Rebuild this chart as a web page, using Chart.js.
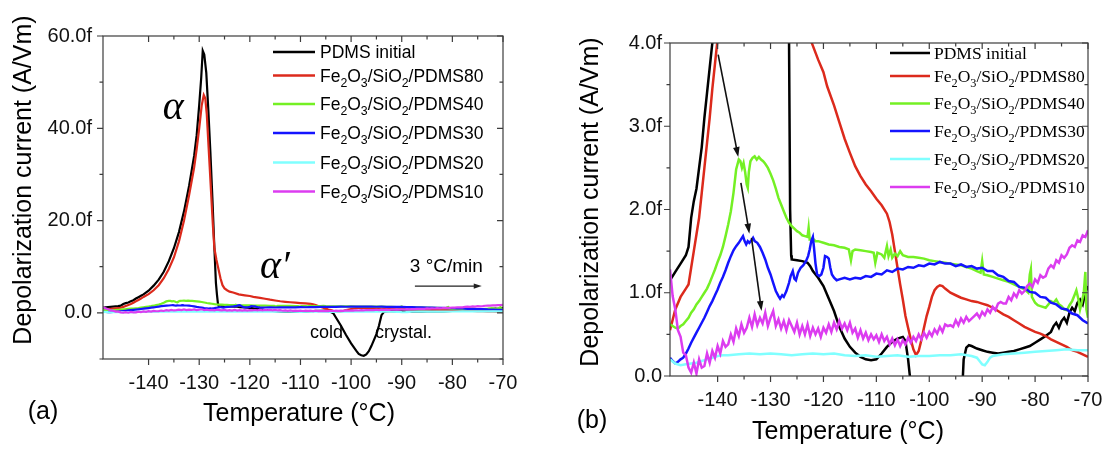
<!DOCTYPE html>
<html>
<head>
<meta charset="utf-8">
<script src="https://cdn.jsdelivr.net/npm/chart.js@4.4.1/dist/chart.umd.min.js"></script>
<style>
  html, body { margin: 0; padding: 0; background: #fff; }
  #wrap { position: relative; width: 1104px; height: 450px; overflow: hidden; }
  #wrap canvas { position: absolute; top: 0; }
  #chartA { left: 0; }
  #chartB { left: 560px; }
</style>
</head>
<body>
<div id="wrap">
  <canvas id="chartA" width="560" height="450"></canvas>
  <canvas id="chartB" width="544" height="450"></canvas>
</div>
<script>
// TSDC curves, temperature in °C, current in fA/Vm (same runs in both panels)
const pdmsT = [-149, -148, -147, -146, -145.5, -145, -144.5, -144, -143.5, -143, -142.5, -142, -141.5, -141, -140, -139, -138, -137, -136, -135, -134, -133, -132, -131, -130.5, -130, -129.6, -129.3, -129, -128.6, -128.2, -127.8, -127.4, -127, -126.7, -126.5, -126.3, -126.1, -126, -125, -124, -123, -122.5, -122, -121, -120, -119, -118, -117, -116, -115, -114, -113, -112, -111, -110, -109, -108, -107, -106, -105, -104.5, -104, -103.5, -103, -102, -101, -100, -99, -98.5, -98, -97.5, -97, -96.5, -96, -95, -94.5, -94, -93.5, -93, -92.5, -92, -91, -90, -89, -88, -87, -86, -85, -84, -83, -82, -81, -80, -79, -78, -77, -76.5, -76, -75.5, -75, -74.5, -74, -73.5, -73, -72.5, -72, -71.5, -71, -70.5, -70];
const pdmsI = [1.15, 1.25, 1.35, 1.45, 1.55, 1.9, 2.1, 2.25, 2.5, 2.75, 3.1, 3.4, 3.7, 4.0, 4.8, 5.9, 7.2, 8.9, 11.2, 14.0, 17.5, 22.0, 27.5, 34, 38.5, 45, 51, 56.8, 56, 52, 44, 35, 25, 14, 6.5, 4.0, 2.0, 1.45, 1.4, 1.39, 1.38, 1.36, 1.32, 1.26, 1.18, 1.08, 0.93, 0.78, 0.59, 0.45, 0.35, 0.28, 0.23, 0.2, 0.19, 0.2, 0.27, 0.35, 0.41, 0.45, 0.47, 0.42, 0.2, -0.1, -1.0, -2.8, -4.8, -6.6, -8.2, -8.9, -9.2, -9.3, -9.0, -8.3, -7.2, -4.6, -2.8, -0.5, 0.2, 0.34, 0.37, 0.36, 0.33, 0.31, 0.29, 0.28, 0.27, 0.28, 0.29, 0.3, 0.32, 0.34, 0.36, 0.4, 0.44, 0.48, 0.53, 0.6, 0.64, 0.58, 0.66, 0.7, 0.64, 0.76, 0.82, 0.78, 0.88, 0.92, 0.86, 1.0, 1.08];

const fe80T = [-149, -148, -147, -146, -145.5, -145, -144.5, -144, -143.5, -143, -142.5, -142, -141.5, -141, -140.5, -140, -139, -138, -137, -136, -135, -134, -133, -132, -131, -130.5, -130, -129.5, -129.1, -128.8, -128.5, -128.2, -127.9, -127.6, -127.3, -127, -126.6, -126.2, -125.8, -125.4, -125, -124.5, -124, -123.3, -122.2, -121, -120, -119.3, -118, -117, -116, -115, -114, -113, -112, -111, -110, -109, -108, -107.5, -107, -106.5, -106, -105.5, -105, -104.5, -104, -103.5, -103, -102.5, -102, -101.5, -101, -100.5, -100, -99.5, -99, -98.5, -98, -97.5, -97, -96, -95, -94, -93, -92, -91, -90, -89, -88, -87, -86, -85, -84, -83, -82, -81, -80, -79, -78, -77, -76, -75, -74, -73, -72, -71, -70];
const fe80I = [0.55, 0.8, 0.95, 1.05, 1.1, 1.3, 1.5, 1.7, 1.9, 2.2, 2.5, 2.8, 3.1, 3.45, 3.75, 4.05, 4.9, 6.0, 7.5, 9.5, 12.0, 15.5, 20.0, 25.5, 31.5, 35.5, 40, 45, 47.2, 46.5, 43, 37, 31, 25, 19, 14, 11.5, 9.5, 7.5, 6.0, 5.3, 4.9, 4.6, 4.4, 4.0, 3.8, 3.65, 3.48, 3.25, 3.05, 2.85, 2.68, 2.52, 2.4, 2.3, 2.22, 2.13, 2.05, 1.95, 1.85, 1.7, 1.5, 1.3, 1.1, 0.92, 0.72, 0.58, 0.44, 0.32, 0.25, 0.3, 0.43, 0.58, 0.72, 0.83, 0.95, 1.03, 1.07, 1.09, 1.08, 1.05, 1.0, 0.97, 0.94, 0.92, 0.9, 0.89, 0.87, 0.85, 0.82, 0.78, 0.74, 0.71, 0.67, 0.63, 0.59, 0.56, 0.53, 0.51, 0.48, 0.44, 0.41, 0.38, 0.35, 0.31, 0.29, 0.26, 0.23];

const fe40T = [-149, -148.5, -148, -147.5, -147, -146.5, -146, -145.5, -145, -144.5, -144, -143.5, -143, -142.5, -142, -141.5, -141, -140.5, -140, -139.5, -139, -138.5, -138, -137.5, -137, -136.5, -136, -135.7, -135.4, -135.1, -134.8, -134.5, -134.3, -134.1, -133.8, -133.4, -133, -132.6, -132.2, -131.8, -131.4, -131, -130.5, -130, -129.5, -129, -128.5, -128, -127.5, -127, -126.5, -126, -125.5, -125, -124.5, -124, -123.5, -123, -122.8, -122.6, -122, -121.5, -121, -120, -119, -118, -117, -116, -115.2, -114.8, -114.5, -114, -113, -112, -111, -110.5, -110.2, -109.8, -109, -108.5, -108, -107.7, -107.3, -107, -106.5, -106, -105.5, -105, -104, -103, -102, -101, -100, -99, -98, -97, -96, -95, -94, -93, -92, -91, -90.3, -90, -89.7, -89, -88, -87, -86, -85, -84, -83, -82, -81.3, -81, -80.8, -80.6, -80, -79.5, -79, -78, -77.5, -77, -76.5, -76, -75.5, -75, -74.5, -74, -73.5, -73, -72.5, -72.2, -71.8, -71.5, -71.2, -70.8, -70.5, -70.3, -70];
const fe40I = [0.62, 0.6, 0.58, 0.57, 0.6, 0.62, 0.66, 0.7, 0.76, 0.8, 0.86, 0.9, 0.95, 1.0, 1.05, 1.12, 1.2, 1.28, 1.37, 1.45, 1.55, 1.68, 1.82, 1.98, 2.2, 2.48, 2.6, 2.58, 2.5, 2.56, 2.45, 2.3, 2.26, 2.45, 2.58, 2.62, 2.64, 2.6, 2.63, 2.6, 2.58, 2.55, 2.5, 2.43, 2.35, 2.25, 2.14, 2.06, 1.98, 1.9, 1.84, 1.8, 1.77, 1.74, 1.72, 1.69, 1.68, 1.67, 1.78, 1.64, 1.65, 1.62, 1.62, 1.6, 1.58, 1.57, 1.55, 1.54, 1.52, 1.39, 1.5, 1.52, 1.51, 1.5, 1.49, 1.48, 1.36, 1.48, 1.46, 1.42, 1.56, 1.44, 1.52, 1.42, 1.47, 1.44, 1.5, 1.45, 1.43, 1.43, 1.42, 1.41, 1.39, 1.38, 1.37, 1.36, 1.35, 1.34, 1.33, 1.31, 1.29, 1.26, 1.24, 1.38, 1.22, 1.21, 1.19, 1.17, 1.15, 1.13, 1.1, 1.07, 1.04, 1.0, 1.22, 1.28, 0.95, 0.88, 0.85, 0.84, 0.82, 0.86, 0.9, 0.88, 0.92, 0.86, 0.84, 0.8, 0.79, 0.85, 0.9, 0.98, 1.03, 0.92, 0.8, 0.88, 1.0, 1.25, 0.8, 0.7];

const fe30T = [-149, -148.5, -148, -147.5, -147, -146.5, -146, -145.5, -145, -144.5, -144, -143.5, -143, -142.5, -142, -141.5, -141, -140.5, -140, -139.5, -139, -138.5, -138, -137.5, -137, -136.5, -136, -135.5, -135.2, -134.9, -134.6, -134.3, -134, -133.6, -133.3, -133, -132.5, -132, -131.5, -131, -130.5, -130, -129.5, -129, -128.5, -128.2, -127.8, -127.5, -127, -126.5, -126.2, -125.8, -125.5, -125.2, -124.8, -124.3, -123.8, -123.3, -122.9, -122.6, -122.3, -122, -121.8, -121.5, -121.2, -120.8, -120.4, -120, -119.7, -119.3, -119, -118.7, -118.4, -118, -117.5, -117, -116, -115, -114, -113, -112, -111, -110, -109, -108, -107, -106, -105, -104, -103, -102, -101, -100, -99, -98, -97, -96, -95, -94, -93, -92, -91, -90, -89, -88, -87, -86, -85, -84, -83, -82, -81, -80, -79, -78, -77, -76, -75, -74, -73, -72, -71, -70];
const fe30I = [0.22, 0.18, 0.15, 0.17, 0.2, 0.22, 0.27, 0.33, 0.4, 0.46, 0.52, 0.58, 0.64, 0.7, 0.77, 0.84, 0.9, 0.97, 1.04, 1.12, 1.19, 1.27, 1.36, 1.44, 1.51, 1.56, 1.6, 1.65, 1.68, 1.62, 1.58, 1.62, 1.6, 1.63, 1.66, 1.62, 1.6, 1.55, 1.48, 1.4, 1.3, 1.22, 1.12, 1.02, 0.96, 0.93, 0.97, 0.95, 1.02, 1.12, 1.2, 1.26, 1.17, 1.15, 1.24, 1.3, 1.33, 1.38, 1.44, 1.52, 1.62, 1.67, 1.55, 1.35, 1.22, 1.2, 1.22, 1.3, 1.44, 1.43, 1.41, 1.3, 1.22, 1.18, 1.15, 1.16, 1.18, 1.16, 1.18, 1.17, 1.2, 1.19, 1.23, 1.22, 1.27, 1.25, 1.29, 1.28, 1.31, 1.3, 1.33, 1.32, 1.35, 1.34, 1.37, 1.35, 1.35, 1.32, 1.34, 1.31, 1.32, 1.29, 1.3, 1.26, 1.26, 1.21, 1.19, 1.14, 1.13, 1.07, 1.06, 1.01, 1.0, 0.95, 0.94, 0.88, 0.86, 0.81, 0.8, 0.75, 0.73, 0.67, 0.63];

const fe20T = [-149, -148, -147, -146, -145, -144, -143, -142, -141, -140, -139, -138, -136, -134, -132, -130, -128, -126, -124, -122, -120, -118, -116, -114, -112, -110, -108, -106, -104, -102, -100, -98, -96, -94, -92, -91, -90.5, -90, -89.5, -89, -88.5, -88, -86, -84, -82, -80, -78, -76, -74, -72, -70];
const fe20I = [0.2, 0.15, 0.13, 0.14, 0.15, 0.16, 0.18, 0.2, 0.22, 0.24, 0.25, 0.25, 0.26, 0.27, 0.26, 0.27, 0.26, 0.25, 0.26, 0.27, 0.26, 0.27, 0.25, 0.24, 0.25, 0.23, 0.24, 0.25, 0.23, 0.24, 0.24, 0.25, 0.25, 0.26, 0.24, 0.22, 0.18, 0.14, 0.13, 0.17, 0.22, 0.24, 0.26, 0.27, 0.28, 0.29, 0.3, 0.31, 0.32, 0.31, 0.31];

const fe10T = [
  -149, -148.5, -148, -147.5, -147, -146.5, -146, -145.5, -145, -144.5,
  -144, -143.5, -143, -142.5, -142, -141.5, -141, -140.5, -140, -139.5,
  -139, -138.5, -138, -137.5, -137, -136.5, -136, -135.5, -135, -134.5,
  -134, -133.5, -133, -132.5, -132, -131.5, -131, -130.5, -130, -129.5,
  -129, -128.5, -128, -127.5, -127, -126.5, -126, -125.5, -125, -124.5,
  -124, -123.5, -123, -122.5, -122, -121.5, -121, -120.5, -120, -119.5,
  -119, -118.5, -118, -117.5, -117, -116.5, -116, -115.5, -115, -114.5,
  -114, -113.5, -113, -112.5, -112, -111.5, -111, -110.5, -110, -109.5,
  -109, -108.5, -108, -107.5, -107, -106.5, -106, -105.5, -105, -104.5,
  -104, -103.5, -103, -102.5, -102, -101.5, -101, -100.5, -100, -99.5,
  -99, -98.5, -98, -97.5, -97, -96.5, -96, -95.5, -95, -94.5,
  -94, -93.5, -93, -92.5, -92, -91.5, -91, -90.5, -90, -89.5,
  -89, -88.5, -88, -87.5, -87, -86.5, -86, -85.5, -85, -84.5,
  -84, -83.5, -83, -82.5, -82, -81.5, -81, -80.5, -80, -79.5,
  -79, -78.5, -78, -77.5, -77, -76.5, -76, -75.5, -75, -74.5,
  -74, -73.5, -73, -72.5, -72, -71.5, -71, -70.5, -70];
const fe10I = [
  1.28, 0.96, 0.8, 0.55, 0.47, 0.28, 0.25, 0.1, 0.04, 0.16,
  0.03, 0.2, 0.1, 0.12, 0.27, 0.16, 0.3, 0.22, 0.36, 0.27,
  0.42, 0.35, 0.38, 0.5, 0.41, 0.57, 0.48, 0.62, 0.52, 0.58,
  0.7, 0.59, 0.74, 0.61, 0.7, 0.63, 0.76, 0.6, 0.7, 0.78,
  0.6, 0.68, 0.57, 0.66, 0.55, 0.67, 0.6, 0.53, 0.64, 0.5,
  0.6, 0.5, 0.62, 0.48, 0.58, 0.5, 0.57, 0.47, 0.58, 0.52,
  0.62, 0.53, 0.64, 0.56, 0.66, 0.57, 0.63, 0.55, 0.64, 0.52,
  0.57, 0.46, 0.55, 0.45, 0.52, 0.43, 0.5, 0.44, 0.49, 0.41,
  0.5, 0.42, 0.47, 0.38, 0.45, 0.37, 0.44, 0.36, 0.43, 0.38,
  0.46, 0.4, 0.47, 0.42, 0.5, 0.44, 0.52, 0.46, 0.53, 0.48,
  0.56, 0.51, 0.59, 0.53, 0.62, 0.6, 0.61, 0.59, 0.67, 0.61,
  0.69, 0.64, 0.71, 0.66, 0.69, 0.72, 0.75, 0.7, 0.77, 0.73,
  0.8, 0.76, 0.83, 0.79, 0.87, 0.89, 0.87, 0.87, 0.95, 0.91,
  0.99, 0.95, 1.03, 0.99, 1.02, 1.08, 1.11, 1.07, 1.16, 1.12,
  1.21, 1.18, 1.2, 1.29, 1.33, 1.3, 1.39, 1.36, 1.45, 1.42,
  1.46, 1.54, 1.57, 1.55, 1.63, 1.61, 1.69, 1.67, 1.75];

const seriesNames = ['PDMS initial', 'Fe_2O_3/SiO_2/PDMS80', 'Fe_2O_3/SiO_2/PDMS40', 'Fe_2O_3/SiO_2/PDMS30', 'Fe_2O_3/SiO_2/PDMS20', 'Fe_2O_3/SiO_2/PDMS10'];
const seriesColors = ['#000000', '#dc2a1c', '#74f024', '#1414ff', '#80ffff', '#dc3cf0'];
const seriesT = [pdmsT, fe80T, fe40T, fe30T, fe20T, fe10T];
const seriesI = [pdmsI, fe80I, fe40I, fe30I, fe20I, fe10I];

const SANS = '"Liberation Sans", Arial, sans-serif';
const SERIF = '"Liberation Serif", "Times New Roman", serif';
const AXIS = '#3c3c3c';
Chart.defaults.font.family = SANS;
Chart.defaults.color = '#111';

function makeDatasets(width) {
  return seriesNames.map((name, i) => ({
    label: name.replace(/_/g, ''),
    data: seriesT[i].map((t, k) => ({ x: t, y: seriesI[i][k] })),
    borderColor: seriesColors[i],
    borderWidth: width,
    pointRadius: 0,
    tension: 0,
    fill: false,
    order: seriesNames.length - i,
  }));
}

const near = (v, m) => Math.abs(v / m - Math.round(v / m)) < 1e-6;

// text with "_x" subscripts
function richText(ctx, str, x, y, size, family) {
  let cx = x;
  for (let i = 0; i < str.length; i++) {
    let ch = str[i];
    if (ch === '_') {
      ch = str[++i];
      ctx.font = `${(size * 0.7).toFixed(1)}px ${family}`;
      ctx.fillText(ch, cx, y + size * 0.28);
    } else {
      ctx.font = `${size}px ${family}`;
      ctx.fillText(ch, cx, y);
    }
    cx += ctx.measureText(ch).width;
  }
}

function arrow(ctx, x1, y1, x2, y2, head, width) {
  const a = Math.atan2(y2 - y1, x2 - x1);
  const c = Math.cos(a), s = Math.sin(a);
  ctx.lineWidth = width;
  ctx.beginPath();
  ctx.moveTo(x1, y1);
  ctx.lineTo(x2 - c * head * 0.6, y2 - s * head * 0.6);
  ctx.stroke();
  ctx.beginPath();
  ctx.moveTo(x2, y2);
  ctx.lineTo(x2 - head * c + head * 0.33 * s, y2 - head * s - head * 0.33 * c);
  ctx.lineTo(x2 - head * c - head * 0.33 * s, y2 - head * s + head * 0.33 * c);
  ctx.closePath();
  ctx.fill();
}

function drawFrame(chart, xMajor, yMajor) {
  const { ctx, chartArea: a, scales } = chart;
  ctx.save();
  ctx.strokeStyle = AXIS;
  ctx.lineWidth = 1.2;
  ctx.beginPath();
  scales.x.ticks.forEach(t => {
    if (!near(t.value, 5)) return;
    const len = near(t.value, xMajor) ? 6 : 3.5;
    const p = scales.x.getPixelForValue(t.value);
    ctx.moveTo(p, a.bottom); ctx.lineTo(p, a.bottom + len);
    ctx.moveTo(p, a.top); ctx.lineTo(p, a.top + len);
  });
  scales.y.ticks.forEach(t => {
    const len = near(t.value, yMajor) ? 6 : 3.5;
    const p = scales.y.getPixelForValue(t.value);
    ctx.moveTo(a.left, p); ctx.lineTo(a.left - len, p);
    ctx.moveTo(a.right, p); ctx.lineTo(a.right - len, p);
  });
  ctx.stroke();
  ctx.strokeRect(a.left, a.top, a.right - a.left, a.bottom - a.top);
  ctx.restore();
}

function drawTitles(ctx, t) {
  ctx.save();
  ctx.fillStyle = '#000';
  ctx.textAlign = 'center';
  ctx.textBaseline = 'middle';
  ctx.font = `${t.size}px ${SANS}`;
  ctx.fillText('Temperature (°C)', t.xTitle[0], t.xTitle[1]);
  ctx.fillText(t.panel, t.panelPos[0], t.panelPos[1]);
  ctx.translate(t.yTitle[0], t.yTitle[1]);
  ctx.rotate(-Math.PI / 2);
  ctx.fillText('Depolarization current (A/Vm)', 0, 0);
  ctx.restore();
}

function drawLegend(ctx, lg) {
  ctx.save();
  ctx.textAlign = 'left';
  ctx.textBaseline = 'alphabetic';
  seriesNames.forEach((name, i) => {
    const y = lg.rows[i];
    ctx.strokeStyle = seriesColors[i];
    ctx.lineWidth = 2.6;
    ctx.beginPath();
    ctx.moveTo(lg.x0, y); ctx.lineTo(lg.x1, y);
    ctx.stroke();
    ctx.fillStyle = '#000';
    richText(ctx, name, lg.tx, y + lg.size * lg.cap, lg.size, lg.family);
  });
  ctx.restore();
}

function axisFit(width, height) {
  return {
    y: (s) => { s.width = width; s.paddingTop = 0; s.paddingBottom = 0; },
    x: (s) => { s.height = height; s.paddingLeft = 0; s.paddingRight = 0; },
  };
}

function baseOptions(cfg) {
  const fit = axisFit(cfg.yWidth, cfg.xHeight);
  return {
    responsive: false,
    devicePixelRatio: 1,
    animation: false,
    events: [],
    layout: { padding: { top: cfg.top, right: cfg.right, left: 0, bottom: 0 } },
    plugins: { legend: { display: false }, tooltip: { enabled: false } },
    scales: {
      x: {
        type: 'linear',
        min: -149, max: -70,
        afterFit: fit.x,
        grid: { display: false, drawTicks: false },
        border: { display: false },
        ticks: {
          stepSize: 5, autoSkip: false, maxRotation: 0, padding: 12,
          font: { size: 20 }, color: '#111',
          callback: v => near(v, 10) ? String(v) : '',
        },
      },
      y: {
        type: 'linear',
        min: cfg.yMin, max: cfg.yMax,
        afterFit: fit.y,
        grid: { display: false, drawTicks: false },
        border: { display: false },
        ticks: {
          stepSize: cfg.yStep, autoSkip: false, padding: cfg.yPad,
          font: { size: 20 }, color: '#111',
          callback: cfg.yLabel,
        },
      },
    },
  };
}

// Panel (a): full scale
const decorA = {
  id: 'decorA',
  afterDraw(chart) {
    const { ctx, scales: { x, y } } = chart;
    drawFrame(chart, 10, 20);
    ctx.save();
    ctx.fillStyle = '#000';
    ctx.strokeStyle = '#222';
    ctx.textBaseline = 'alphabetic';
    ctx.textAlign = 'left';
    ctx.font = `italic 40px ${SERIF}`;
    ctx.fillText('α', x.getPixelForValue(-137.2), y.getPixelForValue(42));
    ctx.fillText('α′', x.getPixelForValue(-118), y.getPixelForValue(7.5));
    ctx.font = `19px ${SANS}`;
    ctx.fillText('3 °C/min', x.getPixelForValue(-88.4), y.getPixelForValue(8.9));
    ctx.font = `18px ${SANS}`;
    ctx.fillText('cold', x.getPixelForValue(-108.1), y.getPixelForValue(-5.55));
    ctx.fillText('crystal.', x.getPixelForValue(-95.3), y.getPixelForValue(-5.55));
    ctx.fillStyle = '#222';
    arrow(ctx, x.getPixelForValue(-87.4), y.getPixelForValue(5.8), x.getPixelForValue(-74.2), y.getPixelForValue(5.8), 8, 1.2);
    ctx.restore();
    drawTitles(ctx, { size: 25, xTitle: [299, 414], yTitle: [24, 180], panel: '(a)', panelPos: [43, 412] });
    drawLegend(ctx, { rows: [52, 75.5, 104, 133, 162.5, 191.5], x0: 273, x1: 315, tx: 320, size: 17.5, cap: 0.358, family: SANS });
  },
};

// Panel (b): zoom on the low-current region
const decorB = {
  id: 'decorB',
  afterDraw(chart) {
    const { ctx, scales: { x, y } } = chart;
    drawFrame(chart, 10, 1);
    const shiftArrows = [
      [[-139.9, 3.86], [-136.1, 2.63]],
      [[-135.6, 2.32], [-134.0, 1.71]],
      [[-133.6, 1.66], [-131.7, 0.78]],
    ];
    ctx.save();
    ctx.strokeStyle = '#111';
    ctx.fillStyle = '#111';
    shiftArrows.forEach(([p, q]) => {
      arrow(ctx, x.getPixelForValue(p[0]), y.getPixelForValue(p[1]), x.getPixelForValue(q[0]), y.getPixelForValue(q[1]), 10, 1.6);
    });
    ctx.restore();
    drawTitles(ctx, { size: 25, xTitle: [288, 432], yTitle: [31, 202], panel: '(b)', panelPos: [32, 421] });
    drawLegend(ctx, { rows: [53, 76, 103.5, 131, 159, 187], x0: 330, x1: 370, tx: 374, size: 17.5, cap: 0.331, family: SERIF });
  },
};

new Chart(document.getElementById('chartA'), {
  type: 'line',
  data: { datasets: makeDatasets(2.2) },
  options: baseOptions({
    top: 36, right: 57, yWidth: 103, xHeight: 91,
    yMin: -10, yMax: 60, yStep: 10, yPad: 11,
    yLabel: v => v === 0 ? '0.0' : (near(v, 20) ? v.toFixed(1) + 'f' : ''),
  }),
  plugins: [decorA],
});

new Chart(document.getElementById('chartB'), {
  type: 'line',
  data: { datasets: makeDatasets(2.5) },
  options: baseOptions({
    top: 43, right: 16, yWidth: 110, xHeight: 74,
    yMin: 0, yMax: 4, yStep: 0.5, yPad: 8,
    yLabel: v => v === 0 ? '0.0' : (near(v, 1) ? v.toFixed(1) + 'f' : ''),
  }),
  plugins: [decorB],
});
</script>
</body>
</html>
